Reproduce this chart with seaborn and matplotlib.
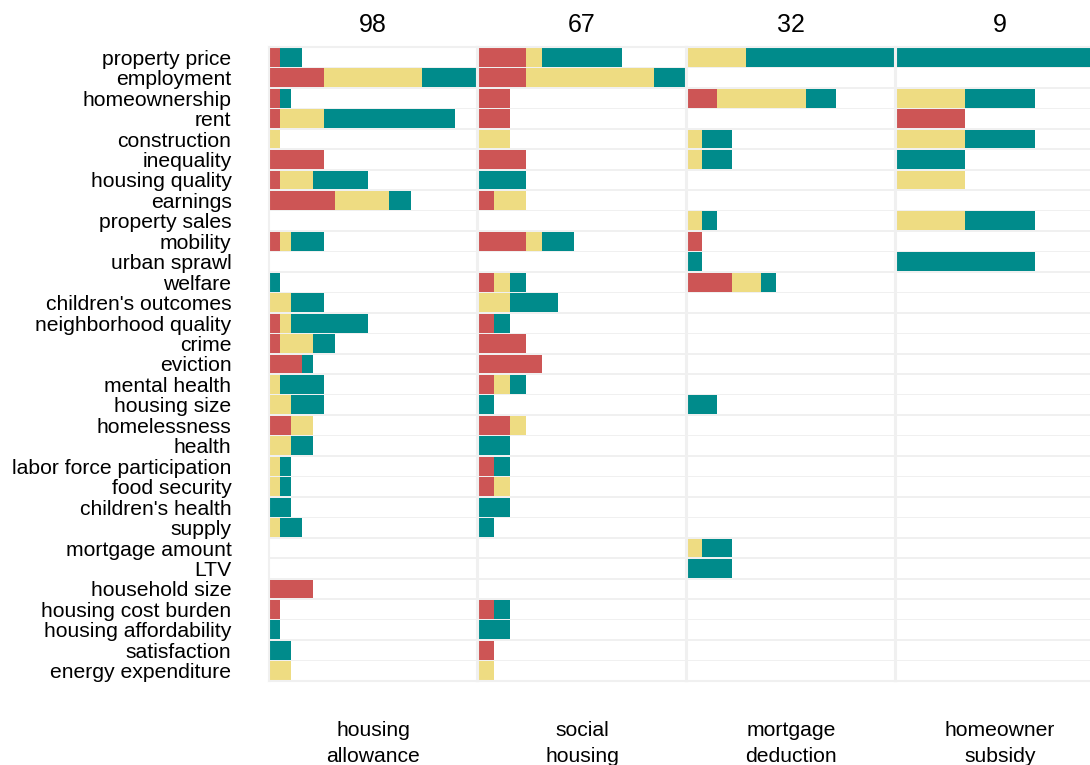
import pandas as pd
import seaborn as sns
import matplotlib.pyplot as plt
import numpy as np

categories = ['property price', 'employment', 'homeownership', 'rent', 'construction',
              'inequality', 'housing quality', 'earnings', 'property sales', 'mobility',
              'urban sprawl', 'welfare', "children's outcomes", 'neighborhood quality',
              'crime', 'eviction', 'mental health', 'housing size', 'homelessness',
              'health', 'labor force participation', 'food security', "children's health",
              'supply', 'mortgage amount', 'LTV', 'household size', 'housing cost burden',
              'housing affordability', 'satisfaction', 'energy expenditure']

policies = ['housing\nallowance', 'social\nhousing', 'mortgage\ndeduction', 'homeowner\nsubsidy']
n_studies = [98, 67, 32, 9]

# counts per category: red (negative), yellow (mixed), teal (positive)
allowance_red = [1, 5, 1, 1, 0, 5, 1, 6, 0, 1, 0, 0, 0, 1, 1, 3, 0, 0, 2, 0, 0, 0, 0, 0, 0, 0, 4, 1, 0, 0, 0]
allowance_yel = [0, 9, 0, 4, 1, 0, 3, 5, 0, 1, 0, 0, 2, 1, 3, 0, 1, 2, 2, 2, 1, 1, 0, 1, 0, 0, 0, 0, 0, 0, 2]
allowance_teal = [2, 5, 1, 12, 0, 0, 5, 2, 0, 3, 0, 1, 3, 7, 2, 1, 4, 3, 0, 2, 1, 1, 2, 2, 0, 0, 0, 0, 1, 2, 0]

social_red = [3, 3, 2, 2, 0, 3, 0, 1, 0, 3, 0, 1, 0, 1, 3, 4, 1, 0, 2, 0, 1, 1, 0, 0, 0, 0, 0, 1, 0, 1, 0]
social_yel = [1, 8, 0, 0, 2, 0, 0, 2, 0, 1, 0, 1, 2, 0, 0, 0, 1, 0, 1, 0, 0, 1, 0, 0, 0, 0, 0, 0, 0, 0, 1]
social_teal = [5, 2, 0, 0, 0, 0, 3, 0, 0, 2, 0, 1, 3, 1, 0, 0, 1, 1, 0, 2, 1, 0, 2, 1, 0, 0, 0, 1, 2, 0, 0]

mortgage_red = [0, 0, 2, 0, 0, 0, 0, 0, 0, 1, 0, 3, 0, 0, 0, 0, 0, 0, 0, 0, 0, 0, 0, 0, 0, 0, 0, 0, 0, 0, 0]
mortgage_yel = [4, 0, 6, 0, 1, 1, 0, 0, 1, 0, 0, 2, 0, 0, 0, 0, 0, 0, 0, 0, 0, 0, 0, 0, 1, 0, 0, 0, 0, 0, 0]
mortgage_teal = [10, 0, 2, 0, 2, 2, 0, 0, 1, 0, 1, 1, 0, 0, 0, 0, 0, 2, 0, 0, 0, 0, 0, 0, 2, 3, 0, 0, 0, 0, 0]

subsidy_red = [0, 0, 0, 1, 0, 0, 0, 0, 0, 0, 0, 0, 0, 0, 0, 0, 0, 0, 0, 0, 0, 0, 0, 0, 0, 0, 0, 0, 0, 0, 0]
subsidy_yel = [0, 0, 1, 0, 1, 0, 1, 0, 1, 0, 0, 0, 0, 0, 0, 0, 0, 0, 0, 0, 0, 0, 0, 0, 0, 0, 0, 0, 0, 0, 0]
subsidy_teal = [3, 0, 1, 0, 1, 1, 0, 0, 1, 0, 2, 0, 0, 0, 0, 0, 0, 0, 0, 0, 0, 0, 0, 0, 0, 0, 0, 0, 0, 0, 0]

panels = [(allowance_red, allowance_yel, allowance_teal),
          (social_red, social_yel, social_teal),
          (mortgage_red, mortgage_yel, mortgage_teal),
          (subsidy_red, subsidy_yel, subsidy_teal)]

red = '#CD5555'
yellow = '#EEDC82'
teal = '#008B8B'
grey = '#f0f0f0'

sns.set_style('white')
plt.rcParams['font.family'] = ['Liberation Sans', 'DejaVu Sans']

fig = plt.figure(figsize=(10.9, 7.65), dpi=100)
W, H = 1090, 765
left0, panel_w, top_px, bot_px = 269, 208, 47, 681

for i, (r, y, t) in enumerate(panels):
    df = pd.DataFrame({'category': categories, 'red': r, 'yellow': y, 'teal': t})
    df['ry'] = df['red'] + df['yellow']
    df['total'] = df['ry'] + df['teal']
    xmax = df['total'].max()
    df['tile'] = xmax

    x0 = (left0 + i * (panel_w + 1)) / W
    ax = fig.add_axes([x0, 1 - bot_px / H, panel_w / W, (bot_px - top_px) / H])
    ax.set_facecolor(grey)

    # white row tiles, then stacked layers drawn from the back
    sns.barplot(data=df, x='tile', y='category', order=categories, color='white',
                width=0.92, linewidth=0, saturation=1, ax=ax)
    sns.barplot(data=df, x='total', y='category', order=categories, color=teal,
                width=0.92, linewidth=0, saturation=1, ax=ax)
    sns.barplot(data=df, x='ry', y='category', order=categories, color=yellow,
                width=0.92, linewidth=0, saturation=1, ax=ax)
    sns.barplot(data=df, x='red', y='category', order=categories, color=red,
                width=0.92, linewidth=0, saturation=1, ax=ax)

    ax.set_xlim(0, xmax)
    ax.set_ylim(len(categories) - 0.5, -0.5)
    ax.set_xlabel('')
    ax.set_ylabel('')
    ax.set_xticks([])
    for s in ax.spines.values():
        s.set_color(grey)
        s.set_linewidth(1.5)
    if i == 0:
        ax.tick_params(axis='y', length=0, labelsize=15.2, pad=27, labelcolor='black')
    else:
        ax.set_yticklabels([])
        ax.tick_params(axis='y', length=0)

    cx = (left0 + i * (panel_w + 1) + panel_w / 2) / W
    fig.text(cx, 1 - 25 / H, str(n_studies[i]), ha='center', va='center', fontsize=18,
             color='black')
    fig.text(cx, 1 - 743.5 / H, policies[i], ha='center', va='center', fontsize=15.2,
             linespacing=1.48, color='black')

plt.savefig('out.png', dpi=100)
